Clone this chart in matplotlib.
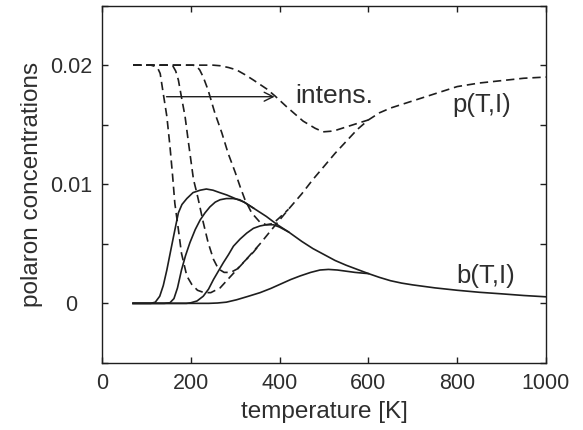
import numpy as np
import matplotlib
matplotlib.use("Agg")
import matplotlib.pyplot as plt

plt.rcParams['font.family'] = ['Liberation Sans', 'DejaVu Sans']
plt.rcParams['lines.scale_dashes'] = False

# common high-temperature tails (all intensities merge there)
T_tail = [420, 450, 475, 500, 525, 550, 575, 600, 625, 650, 675, 700, 750,
          800, 850, 900, 950, 1000]
b_tail = [0.0060, 0.0052, 0.0046, 0.0041, 0.0036, 0.0032, 0.00285, 0.0025,
          0.00218, 0.0019, 0.0017, 0.00155, 0.0013, 0.0011, 0.00093, 0.0008,
          0.00066, 0.00055]
p_tail = [0.0079, 0.0092, 0.0104, 0.0115, 0.0126, 0.0136, 0.0146, 0.0154,
          0.0160, 0.0164, 0.0167, 0.0170, 0.0176, 0.0182, 0.0185, 0.0187,
          0.0189, 0.0190]

# bipolarons b(T,I), four intensities (b1 carries the common tail)
T_b1 = [70, 110, 120, 130, 138, 146, 154, 161, 167, 172, 180, 191, 205, 221,
        235, 250, 265, 281, 300, 320, 341, 370, 395]
b1 = [0, 0, 0.0001, 0.0006, 0.0015, 0.0028, 0.0043, 0.0056, 0.0067, 0.0076,
      0.0083, 0.0088, 0.0093, 0.0095, 0.0096, 0.0095, 0.0093, 0.0091, 0.0088,
      0.0085, 0.0080, 0.0073, 0.0066]

T_b2 = [70, 140, 153, 162, 170, 179, 188, 198, 210, 221, 232, 243, 255, 266,
        280, 295, 310, 320, 341]
b2 = [0, 0, 0.00005, 0.0004, 0.0013, 0.0028, 0.0040, 0.0051, 0.0062, 0.0070,
      0.0076, 0.0081, 0.0085, 0.0087, 0.0088, 0.0088, 0.0087, 0.0085, 0.0080]

T_b3 = [70, 190, 200, 214, 228, 240, 251, 262, 273, 285, 296, 311, 326, 341,
        356, 370, 386, 400, 420]
b3 = [0, 0, 0.00005, 0.0002, 0.0006, 0.0012, 0.0020, 0.0027, 0.0034, 0.0041,
      0.0048, 0.0054, 0.0059, 0.0063, 0.0065, 0.0066, 0.0066, 0.0064, 0.0060]

T_b4 = [70, 240, 260, 280, 303, 330, 356, 380, 401, 425, 446, 470, 491, 510,
        530, 550, 570, 590, 600]
b4 = [0, 0, 0.00003, 0.0001, 0.0003, 0.0006, 0.0009, 0.00125, 0.0016, 0.0020,
      0.0023, 0.0026, 0.0028, 0.00285, 0.0028, 0.0027, 0.0026, 0.00253, 0.0025]

# polarons p(T,I) (p1 carries the common tail)
T_p1 = [70, 110, 119, 126, 131, 138, 146, 153, 159, 164, 172, 179, 191, 202,
        215, 230, 245, 266, 288, 318, 356, 380, 400]
p1 = [0.02, 0.02, 0.0199, 0.0197, 0.0193, 0.0176, 0.0157, 0.0132, 0.0107,
      0.0084, 0.0062, 0.0042, 0.0023, 0.0016, 0.0011, 0.0009, 0.0009, 0.0013,
      0.0022, 0.0034, 0.0050, 0.0061, 0.0070]

T_p2 = [70, 155, 160, 166, 172, 179, 187, 194, 202, 206, 212, 217, 228, 239,
        251, 262, 275, 290, 305, 320, 341, 356]
p2 = [0.02, 0.02, 0.0199, 0.0195, 0.01875, 0.0173, 0.0157, 0.0137, 0.0115,
      0.0104, 0.0095, 0.0087, 0.0068, 0.0051, 0.0037, 0.0029, 0.0026, 0.0026,
      0.0029, 0.0035, 0.0043, 0.0050]

T_p3 = [70, 205, 213, 220, 228, 239, 254, 270, 284, 300, 311, 322, 337, 356,
        370, 385, 400, 420]
p3 = [0.02, 0.02, 0.0199, 0.0196, 0.0190, 0.0179, 0.0160, 0.0143, 0.0126,
      0.0110, 0.0098, 0.0087, 0.0076, 0.0068, 0.0066, 0.0067, 0.0072, 0.0079]

T_p4 = [70, 250, 266, 285, 303, 322, 341, 371, 390, 416, 453, 480, 498, 515,
        529, 566, 600]
p4 = [0.02, 0.02, 0.01995, 0.0198, 0.0196, 0.0192, 0.01875, 0.0180, 0.0174,
      0.0165, 0.0153, 0.0147, 0.0144, 0.01445, 0.01456, 0.0150, 0.0154]

ink = '#1e1e1e'
txt = '#2e2e2e'
dash = (0, (6, 3.5))

fig = plt.figure(figsize=(5.83, 4.30), dpi=100)
ax = fig.add_axes([0.175, 0.156, 0.7615, 0.831])

ax.plot(np.r_[T_b1, T_tail], np.r_[b1, b_tail], color=ink, lw=1.2)
for T, b in [(T_b2, b2), (T_b3, b3), (T_b4, b4)]:
    ax.plot(T, b, color=ink, lw=1.2)

ax.plot(np.r_[T_p1, T_tail], np.r_[p1, p_tail], color=ink, lw=1.2,
        linestyle=dash)
for T, p in [(T_p2, p2), (T_p3, p3), (T_p4, p4)]:
    ax.plot(T, p, color=ink, lw=1.2, linestyle=dash)

ax.annotate('', xy=(395, 0.01735), xytext=(139, 0.01735),
            arrowprops=dict(arrowstyle='->', color=ink, lw=1.0,
                            mutation_scale=16))
ax.text(435, 0.0168, 'intens.', fontsize=19, color=txt, va='baseline')
ax.text(789, 0.0161, 'p(T,I)', fontsize=18.5, color=txt, va='baseline')
ax.text(797, 0.00175, 'b(T,I)', fontsize=18.5, color=txt, va='baseline')

ax.set_xlim(0, 1000)
ax.set_ylim(-0.005, 0.025)
ax.set_xticks([0, 200, 400, 600, 800, 1000])
ax.set_yticks([-0.005, 0, 0.005, 0.01, 0.015, 0.02, 0.025])
ax.set_yticklabels(['', '0', '', '0.01', '', '0.02', ''])
ax.tick_params(direction='in', length=4.5, width=1.0, top=True, right=True,
               labelsize=15.5, colors=ink, labelcolor=txt)
ax.tick_params(axis='y', pad=22.5)
ax.tick_params(axis='x', pad=7)
for lab in ax.get_yticklabels():
    lab.set_horizontalalignment('center')
for s in ax.spines.values():
    s.set_linewidth(1.0)
    s.set_color(ink)

ax.set_xlabel('temperature [K]', fontsize=17.5, color=txt, labelpad=5)
ax.set_ylabel('polaron concentrations', fontsize=17.5, color=txt,
              labelpad=5)

fig.savefig('out.png', dpi=100)
